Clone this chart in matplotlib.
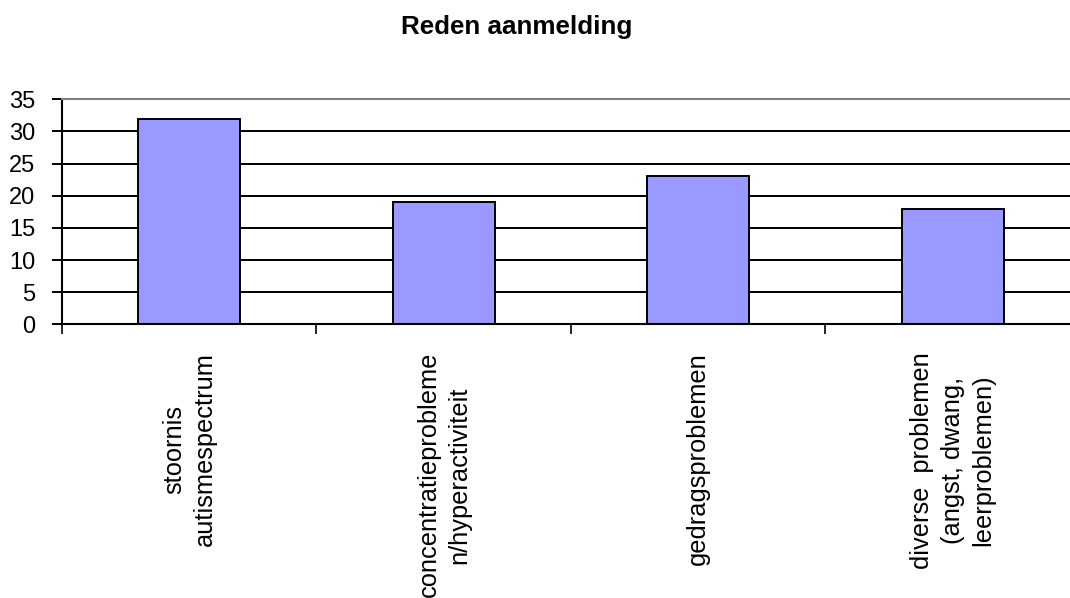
import numpy as np
import matplotlib.pyplot as plt

# Gegevens
categorieen = ['stoornis\nautismespectrum',
               'concentratieprobleme\nn/hyperactiviteit',
               'gedragsproblemen',
               'diverse  problemen\n(angst, dwang,\nleerproblemen)']
aantallen = [32, 19, 23, 18]
y_ticks = [0, 5, 10, 15, 20, 25, 30, 35]

plt.rcParams['font.family'] = ['Liberation Sans', 'DejaVu Sans']

fig = plt.figure(figsize=(10.7, 5.98), dpi=100)
ax = fig.add_axes([62 / 1070, (598 - 324.3) / 598, 1018 / 1070, 225 / 598])

x = np.arange(len(categorieen))
ax.bar(x, aantallen, width=0.4, color='#9999FF', edgecolor='black', linewidth=1.4)

ax.set_xlim(-0.5, len(categorieen) - 0.5)
ax.set_ylim(0, 35)
ax.set_yticks(y_ticks)
ax.set_yticklabels([str(v) for v in y_ticks], fontsize=17)

ax.set_axisbelow(True)
ax.yaxis.grid(True, color='black', linewidth=1.4)
ax.xaxis.grid(False)

# Categorieen en scheidingsstreepjes
ax.set_xticks(x)
ax.set_xticklabels(categorieen, rotation=90, fontsize=18.3, ha='center', va='top',
                   multialignment='center', linespacing=1.35)
ax.tick_params(axis='x', which='major', length=0, pad=20)
ax.set_xticks(np.arange(-0.5, len(categorieen)), minor=True)
ax.tick_params(axis='x', which='minor', length=7, width=1.2, direction='out')
ax.tick_params(axis='y', length=7, width=1.4, direction='out', pad=12)

for s in ['left', 'bottom']:
    ax.spines[s].set_color('black')
    ax.spines[s].set_linewidth(1.5)
for s in ['top', 'right']:
    ax.spines[s].set_color('#808080')
    ax.spines[s].set_linewidth(1.5)

fig.text(517 / 1070, 1 - 27 / 598, 'Reden aanmelding', ha='center', va='center',
         fontsize=18.7, fontweight='bold')

fig.savefig('out.png', dpi=100)
